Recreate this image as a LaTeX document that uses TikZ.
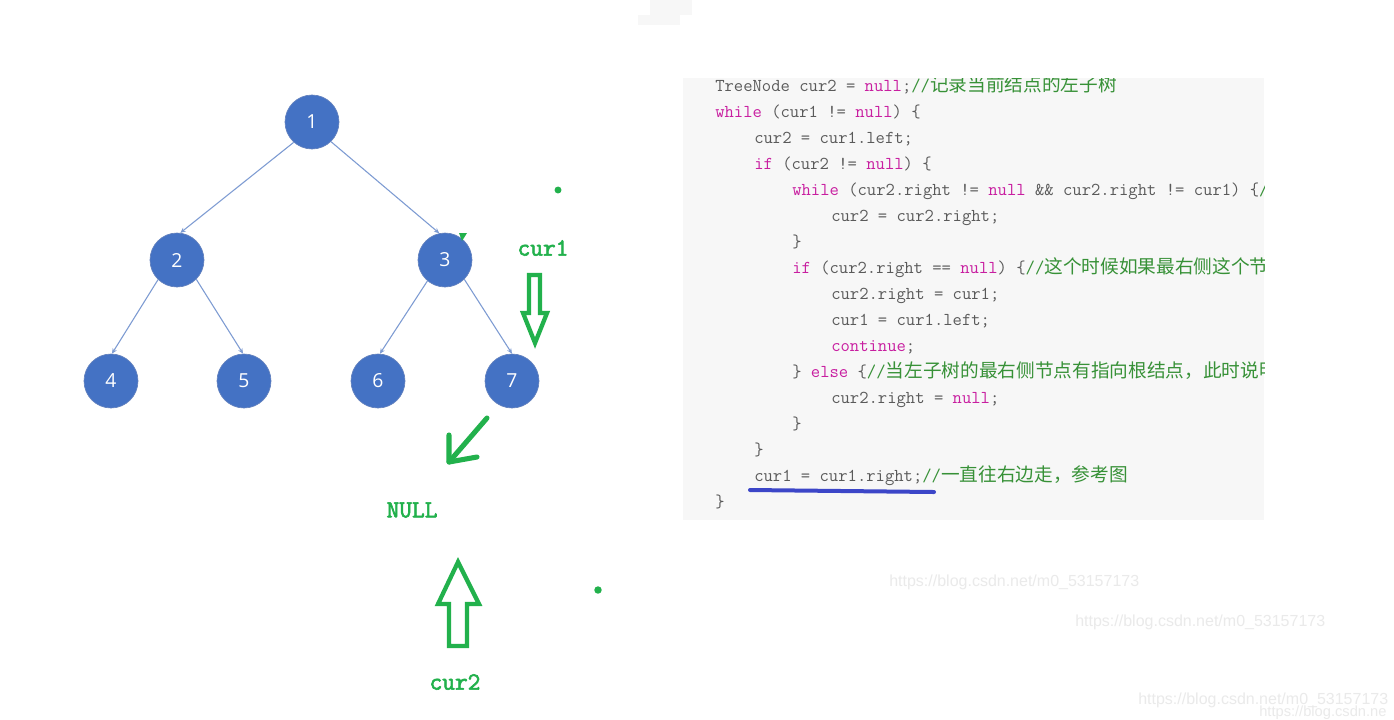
\documentclass[tikz,border=0pt]{standalone}
\usepackage{fontspec}
\setmainfont{Liberation Serif}
\setsansfont{Open Sans}
\newfontfamily\zhfont[Scale=1.03]{Noto Sans CJK SC}
\newfontfamily\wmfont{Liberation Sans}
\newfontfamily\gfont[FakeBold=2.5]{Latin Modern Mono}
\usetikzlibrary{arrows.meta}
\definecolor{kwc}{RGB}{200,30,160}
\definecolor{cmc}{RGB}{55,145,55}
\definecolor{txc}{RGB}{90,90,90}
\definecolor{nodeblue}{RGB}{68,114,196}
\definecolor{nodeline}{RGB}{100,130,190}
\definecolor{edgec}{RGB}{125,155,210}
\definecolor{pgreen}{RGB}{34,177,76}
\definecolor{codebg}{RGB}{247,247,247}
\definecolor{wmc}{RGB}{234,234,234}
\definecolor{ulc}{RGB}{60,70,200}
\newcommand\codekw[1]{\textcolor{kwc}{#1}}
\newcommand\codecm[1]{\textcolor{cmc}{#1}}
\newcommand\zhtxt[1]{\raisebox{-0.6pt}{\zhfont #1}}
\begin{document}
\begin{tikzpicture}[x=0.75pt,y=-0.75pt,
  tnode/.style={circle,fill=nodeblue,draw=nodeline,line width=0.5pt,minimum size=40.5pt,inner sep=0pt,text=white,font=\sffamily\fontsize{14.5}{16}\selectfont},
  tedge/.style={draw=edgec,line width=0.8pt,-{Stealth[length=4pt,width=3.5pt]}},
  codeline/.style={anchor=base west,inner sep=0pt,text=txc,font=\ttfamily\fontsize{13.6}{16}\selectfont},
  hollow/.style={draw=pgreen,line width=3.2pt,line join=miter},
  gtext/.style={text=pgreen,font=\gfont\fontsize{18.5}{20}\selectfont,inner sep=0pt},
  wmark/.style={text=wmc,font=\wmfont\fontsize{12}{14}\selectfont,inner sep=0pt,anchor=west}]
\useasboundingbox (0,0) rectangle (1394,719);
\fill[white] (0,0) rectangle (1394,719);
% top grey patches
\fill[codebg] (650,0) rectangle (692,15);
\fill[codebg] (638,15) rectangle (680,25);
% tree
\node[tnode] (n1) at (312,122) {1};
\node[tnode] (n2) at (177,260) {2};
\node[tnode] (n3) at (445,260) {3};
\node[tnode] (n4) at (111,381) {4};
\node[tnode] (n5) at (244,381) {5};
\node[tnode] (n6) at (378,381) {6};
\node[tnode] (n7) at (512,381) {7};
\draw[tedge] (n1.228) -- (n2.83);
\draw[tedge] (n1.314) -- (n3.102);
\draw[tedge] (n2.226) -- (n4.88);
\draw[tedge] (n2.315) -- (n5.92);
\draw[tedge] (n3.230) -- (n6.86);
\draw[tedge] (n3.315) -- (n7.90);
% green marks
\fill[pgreen] (459,233) -- (467,233) -- (462,241) -- cycle;
\fill[pgreen] (558,190) circle[radius=2.6pt];
\fill[pgreen] (598,590) circle[radius=2.8pt];
\node[gtext] (cur1) at (543,248) {cur1};
\draw[hollow] (529,275) -- (540,275) -- (540,313) -- (547,313) -- (535,343) -- (523,313) -- (529,313) -- cycle;
\coordinate (da) at (487,418);
\coordinate (db) at (449,462);
\draw[draw=pgreen,line width=3.8pt,line cap=round,line join=round] (da) -- (db);
\draw[draw=pgreen,line width=3.8pt,line cap=round,line join=round] (449,435) -- (db) -- (477,457);
\node[gtext] (nullt) at (412,510) {NULL};
\draw[hollow] (458,562) -- (479,604) -- (467,604) -- (467,646) -- (449,646) -- (449,604) -- (438,604) -- cycle;
\node[gtext] (cur2) at (455,682) {cur2};
% code box
\fill[codebg] (683,78) rectangle (1264,520);
\begin{scope}
\clip (683,78) rectangle (1264,520);
\node[codeline] (c1) at (715,91) {TreeNode cur2 = \codekw{null};\codecm{//\zhtxt{记录当前结点的左子树}}};
\node[codeline] (c2) at (715,117) {\codekw{while} (cur1 != \codekw{null}) \{};
\node[codeline] (c3) at (754,143) {cur2 = cur1.left;};
\node[codeline] (c4) at (754,169) {\codekw{if} (cur2 != \codekw{null}) \{};
\node[codeline] (c5) at (792,195) {\codekw{while} (cur2.right != \codekw{null} \&\& cur2.right != cur1) \{\codecm{//}};
\node[codeline] (c6) at (831,221) {cur2 = cur2.right;};
\node[codeline] (c7) at (792,247) {\}};
\node[codeline] (c8) at (792,273) {\codekw{if} (cur2.right == \codekw{null}) \{\codecm{//\zhtxt{这个时候如果最右侧这个节点}}};
\node[codeline] (c9) at (831,299) {cur2.right = cur1;};
\node[codeline] (c10) at (831,325) {cur1 = cur1.left;};
\node[codeline] (c11) at (831,351) {\codekw{continue};};
\node[codeline] (c12) at (792,377) {\} \codekw{else} \{\codecm{//\zhtxt{当左子树的最右侧节点有指向根结点，此时说明}}};
\node[codeline] (c13) at (831,403) {cur2.right = \codekw{null};};
\node[codeline] (c14) at (792,429) {\}};
\node[codeline] (c15) at (754,455) {\}};
\node[codeline] (c16) at (754,481) {cur1 = cur1.right;\codecm{//\zhtxt{一直往右边走，参考图}}};
\node[codeline] (c17) at (715,507) {\}};
\end{scope}
\coordinate (ula) at (750,490);
\coordinate (ulb) at (934,492);
\draw[ulc,line width=3pt,line cap=round] (ula) -- (ulb);
% watermarks
\node[wmark] (w1) at (889,582) {https://blog.csdn.net/m0\_53157173};
\node[wmark] (w2) at (1075,622) {https://blog.csdn.net/m0\_53157173};
\node[wmark] (w3) at (1138,700) {https://blog.csdn.net/m0\_53157173};
\node[wmark,font=\wmfont\fontsize{11}{13}\selectfont] (w4) at (1259,713) {https://blog.csdn.ne};
\end{tikzpicture}
\end{document}
